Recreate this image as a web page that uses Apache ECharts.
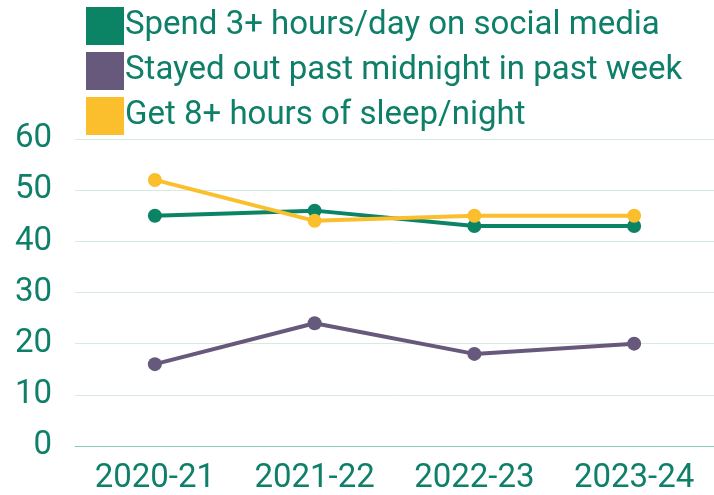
<!DOCTYPE html>
<html>
<head>
<meta charset="utf-8">
<script src="https://cdn.jsdelivr.net/npm/echarts@6/dist/echarts.min.js"></script>
<style>
  html, body { margin: 0; padding: 0; background: #fff; }
  #chart { width: 714px; height: 495px; }
</style>
</head>
<body>
<div id="chart"></div>
<script>
var years = ['2020-21', '2021-22', '2022-23', '2023-24'];
var socialMedia = [45, 46, 43, 43];
var pastMidnight = [16, 24, 18, 20];
var sleep8 = [52, 44, 45, 45];
var seriesNames = [
    'Spend 3+ hours/day on social media',
    'Stayed out past midnight in past week',
    'Get 8+ hours of sleep/night'
];
var colors = ['#0b8466', '#67597c', '#fbbf2d'];
var textColor = '#0e7f68';

var chart = echarts.init(document.getElementById('chart'));

function makeLine(name, data, color) {
    return {
        name: name,
        type: 'line',
        data: data,
        symbol: 'circle',
        symbolSize: 14,
        lineStyle: { width: 4, color: color },
        itemStyle: { color: color },
        emphasis: { disabled: true }
    };
}

chart.setOption({
    animation: false,
    color: colors,
    legend: {
        orient: 'vertical',
        left: 86,
        top: 7,
        padding: 0,
        itemWidth: 38,
        itemHeight: 38,
        itemGap: 7,
        icon: 'rect',
        textStyle: { color: textColor, fontSize: 33, fontFamily: 'Roboto', padding: [0, 0, 0, -4] },
        data: seriesNames
    },
    grid: {
        left: 75,
        top: 139,
        width: 645,
        height: 309
    },
    xAxis: {
        type: 'category',
        data: years,
        boundaryGap: true,
        axisLine: { lineStyle: { color: '#8ccab8', width: 1 } },
        axisTick: { show: false },
        axisLabel: { color: textColor, fontSize: 33, fontFamily: 'Roboto', margin: 16 }
    },
    yAxis: {
        type: 'value',
        min: 0,
        max: 60,
        interval: 10,
        axisLine: { show: false },
        axisTick: { show: false },
        splitLine: { lineStyle: { color: '#d6e9e3', width: 1 } },
        axisLabel: { color: textColor, fontSize: 33, fontFamily: 'Roboto', margin: 23 }
    },
    series: [
        makeLine(seriesNames[0], socialMedia, colors[0]),
        makeLine(seriesNames[1], pastMidnight, colors[1]),
        makeLine(seriesNames[2], sleep8, colors[2])
    ]
});
</script>
</body>
</html>
